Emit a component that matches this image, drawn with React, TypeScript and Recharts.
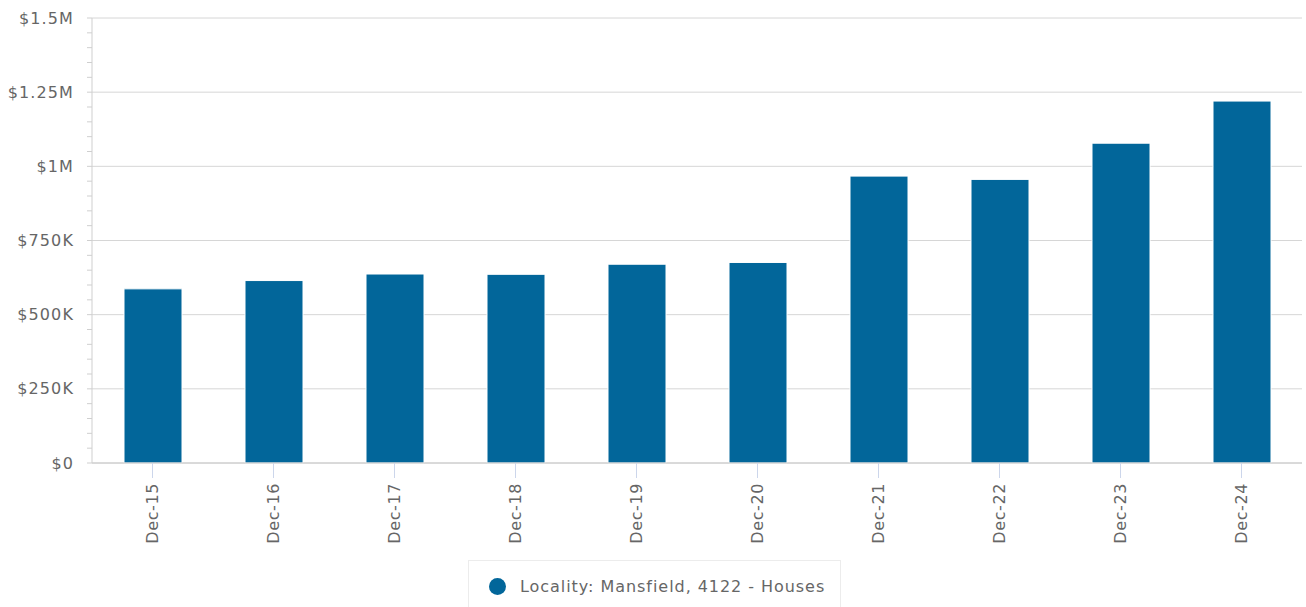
import { BarChart, Bar, XAxis, YAxis, CartesianGrid } from 'recharts';

const categories = ['Dec-15', 'Dec-16', 'Dec-17', 'Dec-18', 'Dec-19', 'Dec-20', 'Dec-21', 'Dec-22', 'Dec-23', 'Dec-24'];
const medianPrice = [587000, 615000, 637000, 636000, 670000, 676000, 967000, 956000, 1078000, 1220000];
const majorTicks = [0, 250000, 500000, 750000, 1000000, 1250000, 1500000];
const minorTicks = [
  0, 50000, 100000, 150000, 200000, 250000, 300000, 350000, 400000, 450000, 500000,
  550000, 600000, 650000, 700000, 750000, 800000, 850000, 900000, 950000, 1000000,
  1050000, 1100000, 1150000, 1200000, 1250000, 1300000, 1350000, 1400000, 1450000, 1500000,
];
const seriesName = 'Locality: Mansfield, 4122 - Houses';

const BAR = '#02669a';
const INK = '#666666';
const FONT = '"DejaVu Sans", Verdana, sans-serif';

const data = categories.map((c, i) => ({ x: c, y: medianPrice[i] }));

function money(v: number) {
  if (v === 0) return '$0';
  if (v >= 1000000) return `$${v / 1000000}M`;
  return `$${v / 1000}K`;
}

function YTick({ x, y, payload }: { x?: number; y?: number; payload?: { value: number } }) {
  const v = payload?.value ?? 0;
  if (!majorTicks.includes(v)) return null;
  return (
    <text x={x} y={y} dy="0.35em" textAnchor="end" fill={INK} fontSize={16} fontFamily={FONT} letterSpacing={1.1}>
      {money(v)}
    </text>
  );
}

function XTick({ x, y, payload }: { x?: number; y?: number; payload?: { value: string } }) {
  return (
    <text
      x={x}
      y={y}
      dy="0.36em"
      textAnchor="end"
      transform={`rotate(-90, ${x}, ${y})`}
      fill={INK}
      fontSize={16}
      fontFamily={FONT}
      letterSpacing={0.6}
    >
      {payload?.value}
    </text>
  );
}

export default function App() {
  return (
    <div style={{ position: 'absolute', left: 0, top: 0, width: 1306, height: 607, background: '#fff', overflow: 'hidden' }}>
      <BarChart width={1306} height={607} data={data} margin={{ top: 18, right: 4, left: 0, bottom: 0 }}>
        <CartesianGrid vertical={false} stroke="#d6d6d6" horizontalValues={majorTicks} />
        <XAxis
          dataKey="x"
          height={144}
          interval={0}
          tick={<XTick />}
          tickSize={15}
          tickMargin={5}
          tickLine={{ stroke: '#ccd6eb' }}
          axisLine={{ stroke: '#c8c8c8' }}
        />
        <YAxis
          width={92}
          domain={[0, 1500000]}
          ticks={minorTicks}
          interval={0}
          tick={<YTick />}
          tickSize={5}
          tickMargin={13}
          tickLine={{ stroke: '#cfcfcf' }}
          axisLine={{ stroke: '#cfcfcf' }}
        />
        <Bar dataKey="y" name={seriesName} fill={BAR} stroke="#ffffff" strokeWidth={1} barSize={58} isAnimationActive={false} />
      </BarChart>
      <div
        style={{
          position: 'absolute',
          left: 468,
          top: 560,
          width: 373,
          height: 52,
          border: '1px solid #ececec',
          boxSizing: 'border-box',
          display: 'flex',
          alignItems: 'center',
          fontFamily: FONT,
          fontSize: 16,
          letterSpacing: 0.95,
          color: INK,
          whiteSpace: 'nowrap',
        }}
      >
        <span style={{ display: 'inline-block', width: 17, height: 17, borderRadius: '50%', background: BAR, marginLeft: 20, marginRight: 14 }} />
        <span>{seriesName}</span>
      </div>
    </div>
  );
}
